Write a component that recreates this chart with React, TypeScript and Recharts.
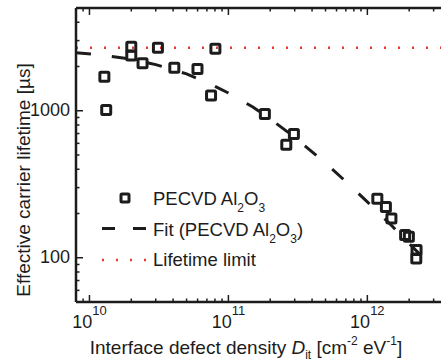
import React from "react";
import { ComposedChart, Scatter, Line, XAxis, YAxis, ReferenceLine } from "recharts";

// measured samples: interface defect density [cm^-2 eV^-1] vs effective lifetime [us]
const ditValues = [
  1.28e10, 1.32e10, 2.0e10, 2.0e10, 2.41e10, 3.11e10, 4.08e10, 5.99e10, 8.06e10, 7.5e10,
  1.83e11, 2.61e11, 2.96e11, 1.18e12, 1.36e12, 1.49e12, 1.87e12, 1.99e12, 2.26e12, 2.25e12,
];
const lifetimeValues = [
  1706, 1011, 2725, 2380, 2104, 2683, 1963, 1924, 2642, 1270,
  950, 587, 695, 252, 221, 185, 143, 139, 113, 99,
];

// fit curve
const fitDit = [8e9, 1.2e10, 2e10, 3e10, 5e10, 7e10, 1e11, 1.5e11, 2e11, 3e11, 5e11, 7e11, 1e12, 1.5e12, 2e12, 2.7e12];
const fitLifetime = [2480, 2400, 2240, 2060, 1780, 1560, 1320, 1060, 880, 660, 440, 330, 240, 165, 125, 94];

const lifetimeLimit = 2680;

const xDomain = [8e9, 4e12];
const yDomain = [50, 5000];

const xMajorTicks = [1e10, 1e11, 1e12];
const xMinorTicks = [
  9e9, 2e10, 3e10, 4e10, 5e10, 6e10, 7e10, 8e10, 9e10,
  2e11, 3e11, 4e11, 5e11, 6e11, 7e11, 8e11, 9e11, 2e12, 3e12,
];
const yMajorTicks = [100, 1000];
const yMinorTicks = [60, 70, 80, 90, 200, 300, 400, 500, 600, 700, 800, 900, 2000, 3000, 4000];

const seriesNames = ["PECVD Al", "Fit (PECVD Al", "Lifetime limit"];

const scatterData = ditValues.map((x, i) => ({ x, y: lifetimeValues[i] }));
const fitData = fitDit.map((x, i) => ({ x, y: fitLifetime[i] }));
const xTicks = [...xMajorTicks, ...xMinorTicks].sort((a, b) => a - b);
const yTicks = [...yMajorTicks, ...yMinorTicks].sort((a, b) => a - b);

const INK = "#1c1c1c";
const RED = "#e8392f";
const FONT = "'Liberation Sans', Arial, sans-serif";
const TOP = 8;

const SquareMark = (props: any) => {
  const { cx, cy } = props;
  if (cx == null || cy == null) return null;
  return <rect x={cx - 4.5} y={cy - 4.5} width={9} height={9} rx={1} fill="none" stroke={INK} strokeWidth={3} />;
};

const xTick = (props: any) => {
  const { x, y, payload } = props;
  const major = xMajorTicks.includes(payload.value);
  const len = major ? 7 : 3.5;
  const exp = Math.round(Math.log10(payload.value));
  return (
    <g>
      <line x1={x} x2={x} y1={y} y2={y - len} stroke={INK} strokeWidth={1.5} />
      <line x1={x} x2={x} y1={TOP} y2={TOP + len} stroke={INK} strokeWidth={1.5} />
      {major && (
        <text x={x} y={y + 26} textAnchor="middle" fontSize={18} fill={INK} fontFamily={FONT}>
          10
          <tspan dy={-13} fontSize={13}>{exp}</tspan>
        </text>
      )}
    </g>
  );
};

const yTickLeft = (props: any) => {
  const { x, y, payload } = props;
  const major = yMajorTicks.includes(payload.value);
  return (
    <g>
      <line x1={x} x2={x + (major ? 7 : 3.5)} y1={y} y2={y} stroke={INK} strokeWidth={1.5} />
      {major && (
        <text x={x - 6} y={y + 5} textAnchor="end" fontSize={18} fill={INK} fontFamily={FONT}>
          {payload.value}
        </text>
      )}
    </g>
  );
};

export default function App() {
  return (
    <div
      style={{
        position: "absolute",
        left: 0,
        top: 0,
        width: 441,
        height: 362,
        overflow: "hidden",
        background: "#fff",
        fontFamily: FONT,
      }}
    >
      <ComposedChart width={451} height={362} margin={{ top: TOP, right: 0, bottom: 0, left: 0 }}>
        <XAxis
          xAxisId="b"
          dataKey="x"
          type="number"
          scale="log"
          domain={xDomain}
          allowDataOverflow
          ticks={xTicks}
          interval={0}
          height={60}
          tickSize={0}
          tickMargin={0}
          tick={xTick}
          axisLine={{ stroke: INK, strokeWidth: 2.5 }}
        />
        <YAxis
          dataKey="y"
          type="number"
          scale="log"
          domain={yDomain}
          allowDataOverflow
          ticks={yTicks}
          interval={0}
          width={76}
          tickSize={0}
          tickMargin={0}
          tick={yTickLeft}
          axisLine={{ stroke: INK, strokeWidth: 2.5 }}
        />
        {/* top frame */}
        <ReferenceLine xAxisId="b" y={yDomain[1]} stroke={INK} strokeWidth={2.5} ifOverflow="visible" />
        <ReferenceLine
          xAxisId="b"
          y={lifetimeLimit}
          stroke={RED}
          strokeWidth={2.5}
          strokeDasharray="2 12"
        />
        <Scatter xAxisId="b" data={scatterData} shape={SquareMark} isAnimationActive={false} />
        <Line
          xAxisId="b"
          data={fitData}
          dataKey="y"
          type="linear"
          stroke={INK}
          strokeWidth={3}
          strokeDasharray="15 21"
          dot={false}
          isAnimationActive={false}
        />
      </ComposedChart>

      <svg
        width={441}
        height={362}
        style={{ position: "absolute", left: 0, top: 0, pointerEvents: "none" }}
        fontFamily={FONT}
      >
        {/* legend */}
        <rect x={121} y={194} width={8} height={8} rx={1} fill="none" stroke={INK} strokeWidth={3} />
        <text x={153} y={205} fontSize={18.5} fill={INK}>
          {seriesNames[0]}
          <tspan dy={7} fontSize={12}>2</tspan>
          <tspan dy={-7}>O</tspan>
          <tspan dy={7} fontSize={12}>3</tspan>
        </text>
        <line x1={102} x2={146} y1={228.5} y2={228.5} stroke={INK} strokeWidth={3} strokeDasharray="13 18" />
        <text x={153} y={236} fontSize={18.5} fill={INK}>
          {seriesNames[1]}
          <tspan dy={7} fontSize={12}>2</tspan>
          <tspan dy={-7}>O</tspan>
          <tspan dy={7} fontSize={12}>3</tspan>
          <tspan dy={-7}>)</tspan>
        </text>
        <line x1={102} x2={146} y1={260} y2={260} stroke={RED} strokeWidth={2.5} strokeDasharray="2 12" />
        <text x={153} y={266} fontSize={18.5} fill={INK}>
          {seriesNames[2]}
        </text>

        {/* axis titles */}
        <text x={246} y={354} textAnchor="middle" fontSize={19} fill={INK}>
          Interface defect density{" "}
          <tspan fontStyle="italic">D</tspan>
          <tspan dy={5} fontSize={12}>it</tspan>
          <tspan dy={-5}> [cm</tspan>
          <tspan dy={-9} fontSize={12}>-2</tspan>
          <tspan dy={9}> eV</tspan>
          <tspan dy={-9} fontSize={12}>-1</tspan>
          <tspan dy={9}>]</tspan>
        </text>
        <text
          transform="translate(29.5,180) rotate(-90)"
          textAnchor="middle"
          fontSize={19}
          fill={INK}
        >
          Effective carrier lifetime [µs]
        </text>
      </svg>
    </div>
  );
}
